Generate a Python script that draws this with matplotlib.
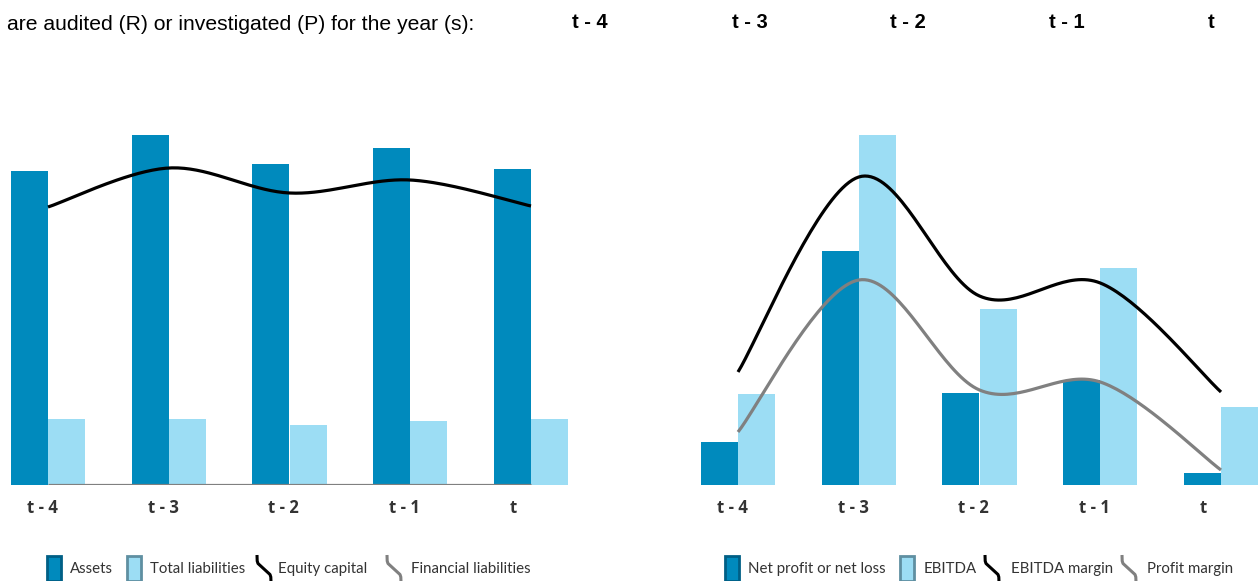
import matplotlib
matplotlib.use("Agg")
import matplotlib.pyplot as plt
import numpy as np
from matplotlib.patches import Rectangle

# years
years = ["t - 4", "t - 3", "t - 2", "t - 1", "t"]

# left chart
assets = [314, 350, 321, 337, 316]
total_liabilities = [66, 66, 60, 64, 66]
equity_capital = [278, 317, 292, 305, 279]
financial_liabilities = [0, 0, 0, 0, 0]

# right chart
net_profit = [43, 234, 92, 105, 12]
ebitda = [91, 350, 176, 217, 78]
ebitda_margin = [113, 308, 189, 202, 93]
profit_margin = [53, 205, 95, 103, 15]

header = "are audited (R) or investigated (P) for the year (s):"

dark = "#008abd"
light = "#9cddf4"

W, H = 1258, 581
fig = plt.figure(figsize=(W / 100, H / 100), dpi=100)


def smooth(x, y, n=40):
    # excel-like smoothed line (catmull-rom through the points)
    x = np.asarray(x, float)
    y = np.asarray(y, float)
    px = np.concatenate([[x[0]], x, [x[-1]]])
    py = np.concatenate([[y[0]], y, [y[-1]]])
    xs, ys = [], []
    for i in range(1, len(px) - 2):
        p0, p1, p2, p3 = [np.array([px[j], py[j]]) for j in (i - 1, i, i + 1, i + 2)]
        c1 = p1 + (p2 - p0) / 6
        c2 = p2 - (p3 - p1) / 6
        t = np.linspace(0, 1, n)[:, None]
        b = (1 - t) ** 3 * p1 + 3 * (1 - t) ** 2 * t * c1 + 3 * (1 - t) * t ** 2 * c2 + t ** 3 * p2
        xs.extend(b[:, 0])
        ys.extend(b[:, 1])
    return xs, ys


def chart(rect, xlim, bars1, bars2, line1, line2):
    ax = fig.add_axes(rect)
    x = np.arange(len(years))
    w = 37 / 120.75
    ax.bar(x - w / 2 - 0.002, bars1, w, color=dark, zorder=2)
    ax.bar(x + w / 2 + 0.002, bars2, w, color=light, zorder=2)
    lx, ly = smooth(x, line2)
    ax.plot(lx, ly, color="#808080", lw=2.3, zorder=3, solid_capstyle="butt")
    lx, ly = smooth(x, line1)
    ax.plot(lx, ly, color="black", lw=2.3, zorder=4, solid_capstyle="butt")
    ax.set_xlim(*xlim)
    ax.set_ylim(0, 385)
    ax.set_xticks([])
    ax.set_yticks([])
    for i, lab in enumerate(years):
        ax.annotate(lab, (i, 0), xytext=(-21, -23), textcoords="offset pixels",
                    ha="left", va="center", fontsize=12, fontweight="bold",
                    color="#333333", family="Open Sans", annotation_clip=False)
    for s in ax.spines.values():
        s.set_visible(False)
    return ax


bottom = (H - 485) / H
height = 385 / H
chart([0, bottom, 640 / W, height], (-48 / 120.75, (640 - 48) / 120.75),
      assets, total_liabilities, equity_capital, financial_liabilities)
chart([650 / W, bottom, 608 / W, height], ((650 - 738) / 120.75, (1258 - 738) / 120.75),
      net_profit, ebitda, ebitda_margin, profit_margin)

# header line
fig.text(7 / W, 1 - 25 / H, header, fontsize=15.2, family="Liberation Sans",
         va="center", ha="left")
for xc, lab in zip([590, 750, 908, 1067, 1211], years):
    fig.text(xc / W, 1 - 22 / H, lab, fontsize=14.5, family="Liberation Sans",
             fontweight="bold", va="center", ha="center")


# legends drawn by hand
def patch(x, fc, ec):
    fig.patches.append(Rectangle((x / W, 0), 14 / W, 25 / H, transform=fig.transFigure,
                                 fc=fc, ec=ec, lw=2))


def squiggle(x, col):
    pts = [(0, 0), (0.2, 6), (1, 8.5), (13, 19.5), (13.8, 22), (14, 27)]
    xs = [(x + a) / W for a, b in pts]
    ys = [1 - (555 + b) / H for a, b in pts]
    fig.lines.append(plt.Line2D(xs, ys, transform=fig.transFigure, color=col, lw=2.2,
                                solid_joinstyle="round", solid_capstyle="butt"))


def label(x, s):
    fig.text(x / W, 1 - 569 / H, s, fontsize=10.8, family="Lato", color="#333333",
             va="center", ha="left")


patch(47, dark, "#005f85")
label(70, "Assets")
patch(127, light, "#5f8fa1")
label(150, "Total liabilities")
squiggle(257, "black")
label(278, "Equity capital")
squiggle(387, "#808080")
label(411, "Financial liabilities")

patch(725, dark, "#005f85")
label(748, "Net profit or net loss")
patch(900, light, "#5f8fa1")
label(924, "EBITDA")
squiggle(985, "black")
label(1011, "EBITDA margin")
squiggle(1122, "#808080")
label(1147, "Profit margin")

fig.savefig("out.png", dpi=100)
